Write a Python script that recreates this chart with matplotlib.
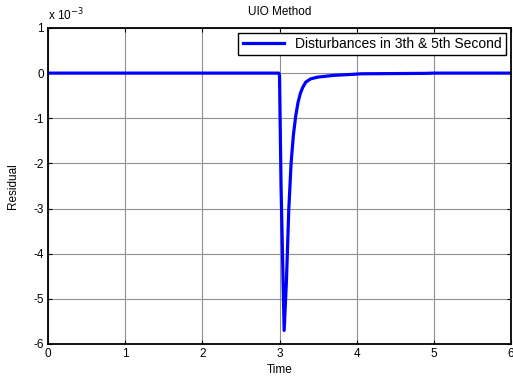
import numpy as np
from matplotlib import pyplot as plt

plt.rcParams['font.family'] = ['Liberation Sans', 'DejaVu Sans']
plt.rcParams['axes.unicode_minus'] = False

# residual, in units of 1e-3
time = [0, 1, 2, 2.99, 3.0, 3.02, 3.06, 3.09, 3.12, 3.15, 3.18, 3.21, 3.24, 3.27,
        3.30, 3.34, 3.40, 3.49, 3.7, 3.92, 4.06, 4.5, 4.9, 5.0, 6.0]
residual = [0, 0, 0, 0, -0.05, -2.5, -5.7, -4.6, -3.03, -2.0, -1.37, -0.95, -0.65, -0.45,
            -0.32, -0.2, -0.13, -0.09, -0.05, -0.03, -0.015, -0.01, -0.005, 0, 0]
xticks = [0, 1, 2, 3, 4, 5, 6]
yticks = [1, 0, -1, -2, -3, -4, -5, -6]

fig = plt.figure(figsize=(5.13, 3.78), dpi=100)
ax = fig.add_axes([0.0936, 0.09, 0.9025, 0.836])

ax.plot(time, residual, color='#0000ff', lw=2.3,
        label='Disturbances in 3th & 5th Second')
ax.set_xlim(0, 6)
ax.set_ylim(-6, 1)
ax.set_xticks(xticks)
ax.set_yticks(yticks)
ax.grid(True, color='#909090', lw=0.8)
ax.tick_params(direction='in', length=3, labelsize=8.5, top=True, right=True, pad=3)
for s in ax.spines.values():
    s.set_linewidth(1.3)

ax.set_title('UIO Method', fontsize=8.5, pad=9)
ax.set_xlabel('Time', fontsize=8.5, labelpad=3)
ax.set_ylabel('Residual', fontsize=8.5, labelpad=10)
ax.text(0.0, 1.015, r'x 10$^{-3}$', transform=ax.transAxes, fontsize=8.5,
        ha='left', va='bottom')

leg = ax.legend(loc='upper right', fontsize=10, fancybox=False, framealpha=1,
                edgecolor='black', borderaxespad=0.35, handlelength=3.0,
                borderpad=0.3)
leg.get_frame().set_linewidth(1.0)

plt.savefig('out.png', dpi=100)
